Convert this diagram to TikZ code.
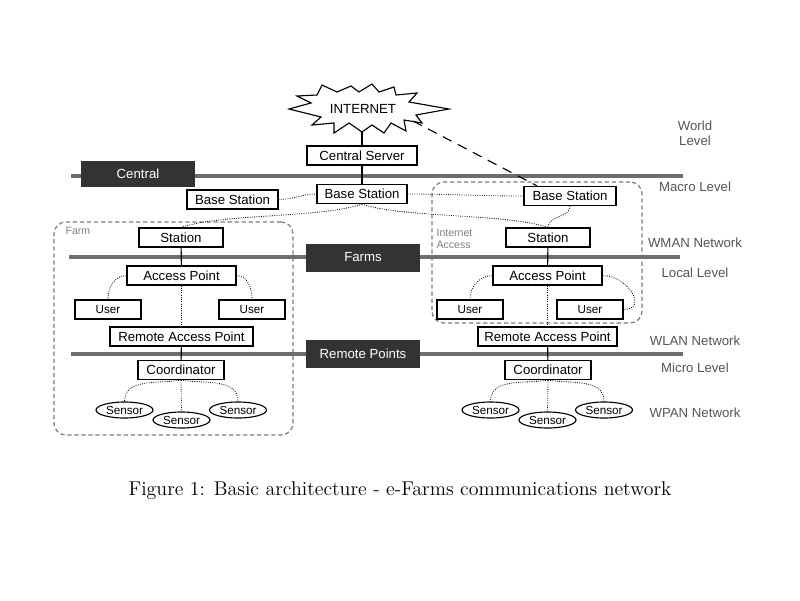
\documentclass[tikz,border=0pt]{standalone}
\usepackage{fontspec}
\newfontfamily\arial{Liberation Sans}
\usetikzlibrary{shapes.geometric, positioning}
\definecolor{bargray}{RGB}{110,110,110}
\definecolor{tierfill}{RGB}{51,51,51}
\definecolor{labelgray}{RGB}{85,85,85}
\definecolor{zonegray}{RGB}{125,125,125}

\begin{document}
\begin{tikzpicture}[x=0.025cm, y=-0.025cm]
	\tikzset{box/.style={draw, fill=white, line width=0.8pt, inner sep=0pt, minimum height=0.475cm, minimum width=#1, font=\arial\fontsize{9.4}{11}\selectfont}, box/.default=2cm,
		user/.style={box=1.65cm, font=\arial\fontsize{8.3}{10}\selectfont},
		sensor/.style={ellipse, draw, fill=white, line width=0.8pt, inner sep=0pt, minimum width=1.425cm, minimum height=0.4cm, font=\arial\fontsize{8.3}{10}\selectfont},
		tier/.style={fill=tierfill, text=white, inner sep=0pt, minimum width=2.85cm, minimum height=0.7cm, font=\arial\fontsize{9.4}{11}\selectfont},
		bar/.style={draw=bargray, line width=2.8pt},
		zone/.style={draw=zonegray, dash pattern=on 3pt off 2pt, line width=0.9pt, rounded corners=0.3cm, inner sep=0pt},
		zonetext/.style={text=zonegray, inner sep=0pt, align=left, font=\arial\fontsize{7.5}{8.5}\selectfont},
		level/.style={text=labelgray, align=center, font=\arial\fontsize{9.4}{10.7}\selectfont},
		link/.style={densely dotted, line width=0.6pt} }

	\useasboundingbox (0,0) rectangle (800,600);

	% zones
	\node[zone, minimum width=5.975cm, minimum height=5.325cm] (farm) at (173.5,328.5) {};
	\node[zone, minimum width=5.25cm, minimum height=3.525cm] (inetacc) at (537,252.5) {};
	\node[zonetext, below right=0.15cm and 0.3cm of farm.north west] (farmlbl) {Farm};
	\node[zonetext, below right=1.2cm and 0.125cm of inetacc.north west] (inetlbl) {Internet\\Access};

	% level bars
	\draw[bar] (71,176) -- (683,176);
	\draw[bar] (69,257) -- (680,257);
	\draw[bar] (71,354) -- (683,354);
	\node[tier, minimum height=0.65cm] (central) at (138,174) {Central};
	\node[tier] (farms) at (363,257.5) {Farms};
	\node[tier] (remote) at (363,353.5) {Remote Points};

	% internet cloud
	\draw[fill=white, line width=0.8pt] (289,109) -- (311,103) -- (297,96) -- (317,95) -- (322,85) -- (337,92) -- (351,86) -- (359,92) -- (372,84) -- (379,92) -- (394,87) -- (396,95) -- (417,93) -- (409,102) -- (449,109) -- (416,115) -- (422,123) -- (404,120) -- (406,131) -- (391,123) -- (384,133) -- (372,125) -- (362,132) -- (349,123) -- (334,133) -- (334,123) -- (312,125) -- (321,117) -- cycle;
	\node[font=\arial\fontsize{9.4}{11}\selectfont] (inet) at (363,109) {INTERNET};
	\coordinate (inettip) at (362,132);
	\coordinate (inetedge) at (413,121);

	% nodes
	\node[box=2.75cm] (cs) at (362,155.5) {Central Server};
	\node[box=2.25cm] (bsc) at (362,194) {Base Station};
	\node[box=2.275cm] (bsl) at (232.5,199.5) {Base Station};
	\node[box=2.3cm] (bsr) at (570,196) {Base Station};

	\node[box=2.1cm] (stl) at (181,237.5) {Station};
	\node[box=2.725cm] (apl) at (181.5,275.5) {Access Point};
	\node[user] (ul1) at (108,309.5) {User};
	\node[user] (ul2) at (252,309.5) {User};
	\node[box=3.575cm] (rapl) at (181.5,336.5) {Remote Access Point};
	\node[box=2.15cm] (col) at (181,370) {Coordinator};
	\node[sensor] (sl1) at (124.5,410) {Sensor};
	\node[sensor] (sl2) at (181.5,420) {Sensor};
	\node[sensor] (sl3) at (238,410) {Sensor};

	\node[box=2.1cm] (str) at (548,237.5) {Station};
	\node[box=2.725cm] (apr) at (547.5,275.5) {Access Point};
	\node[user] (ur1) at (470,309.5) {User};
	\node[user] (ur2) at (590,309.5) {User};
	\node[box=3.475cm] (rapr) at (547.5,336.5) {Remote Access Point};
	\node[box=2.15cm] (cor) at (548,370) {Coordinator};
	\node[sensor] (sr1) at (490.5,410) {Sensor};
	\node[sensor] (sr2) at (547.5,420) {Sensor};
	\node[sensor] (sr3) at (604,410) {Sensor};

	% level names
	\node[level] (world) at (695,133) {World\\Level};
	\node[level] (macro) at (695,187) {Macro Level};
	\node[level] (wman) at (695,243) {WMAN Network};
	\node[level] (local) at (695,273) {Local Level};
	\node[level] (wlan) at (695,341) {WLAN Network};
	\node[level] (micro) at (695,368) {Micro Level};
	\node[level] (wpan) at (695,413) {WPAN Network};

	\node[anchor=base, font=\fontsize{14.15}{17}\selectfont] (caption) at (400,495) {Figure 1: Basic architecture - e-Farms communications network};

	% links
	\draw[line width=0.8pt] (cs) -- (inettip);
	\draw[line width=0.8pt] (cs) -- (bsc);
	\draw[line width=0.8pt, dash pattern=on 7pt off 5pt] (inetedge) -- (bsr.163);
	\draw[link] (bsl.east) to[out=0, in=180] (bsc.west);
	\draw[link] (bsc.east) to[out=0, in=180] (bsr.west);
	\draw[link] (bsc.south) .. controls +(-40,14) and +(40,-14) .. (stl.north);
	\draw[link] (bsc.south) .. controls +(40,14) and +(-40,-14) .. (str.north);
	\draw[link] (bsr.south) to[out=-90, in=90] (str.north);

	\draw[line width=0.8pt] (stl) -- (apl);
	\draw[link] (apl.west) to[out=180, in=90] (ul1.north);
	\draw[link] (apl.east) to[out=0, in=90] (ul2.north);
	\draw[link] (apl) -- (rapl);
	\draw[line width=0.8pt] (rapl) -- (col);
	\draw[link] (col.south) to[out=190, in=90] (sl1.north);
	\draw[link] (col.south) -- (sl2.north);
	\draw[link] (col.south) to[out=-10, in=90] (sl3.north);

	\draw[line width=0.8pt] (str) -- (apr);
	\draw[link] (apr.west) to[out=180, in=90] (ur1.north);
	\draw[link] (apr.east) to[out=0, in=0, looseness=1.6] (ur2.east);
	\draw[link] (apr) -- (rapr);
	\draw[line width=0.8pt] (rapr) -- (cor);
	\draw[link] (cor.south) to[out=190, in=90] (sr1.north);
	\draw[link] (cor.south) -- (sr2.north);
	\draw[link] (cor.south) to[out=-10, in=90] (sr3.north);
\end{tikzpicture}
\end{document}
